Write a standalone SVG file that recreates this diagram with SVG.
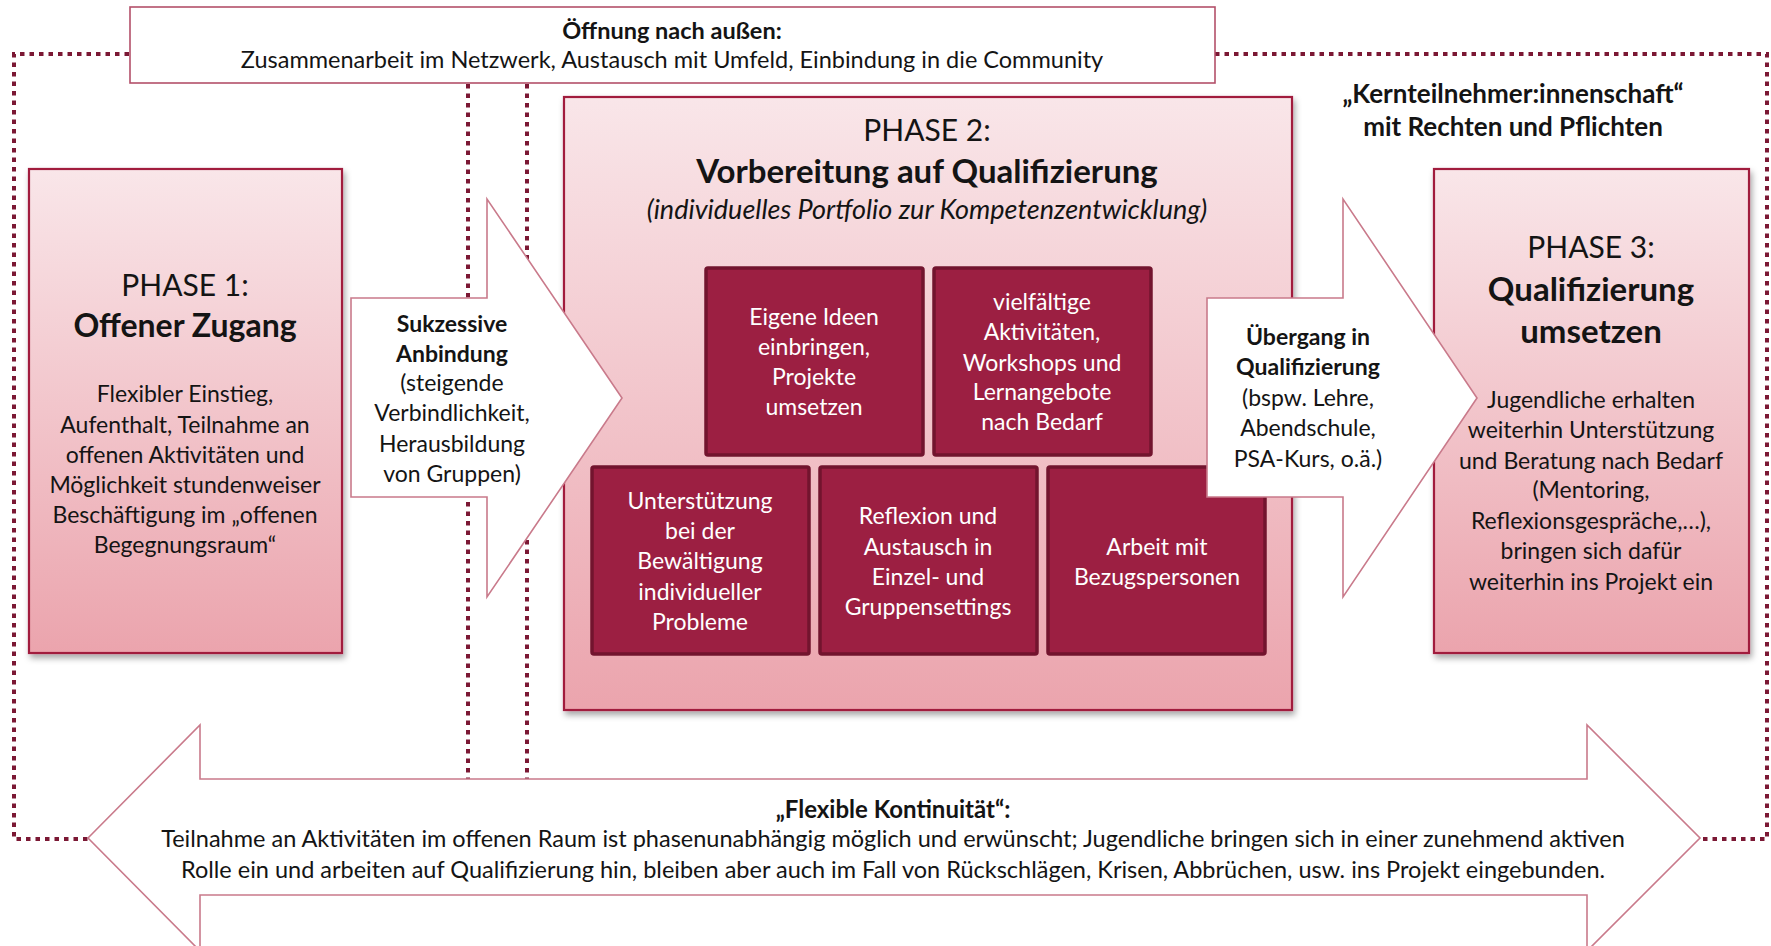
<svg xmlns="http://www.w3.org/2000/svg" width="1771" height="946" viewBox="0 0 1771 946">
<defs>
<linearGradient id="pg" x1="0" y1="0" x2="0" y2="1">
<stop offset="0" stop-color="#f9e6e9"/>
<stop offset="1" stop-color="#eba4ad"/>
</linearGradient>
<filter id="sh" x="-5%" y="-5%" width="115%" height="115%">
<feDropShadow dx="2" dy="4" stdDeviation="3" flood-color="#000" flood-opacity="0.35"/>
</filter>
<style>
.t{font-family:Lato,"Liberation Sans",sans-serif;fill:#141414;text-anchor:middle}
.b{font-weight:bold}
.i{font-style:italic}
.s23{font-size:23px}
.s235{font-size:23.5px}
.s24{font-size:24px}
.s26{font-size:26px}
.s27{font-size:27px}
.s30{font-size:30px}
.s32{font-size:32px}
.s33{font-size:33px}
.w{fill:#ffffff}
.phase{fill:url(#pg);stroke:#a11f3d;stroke-width:2.2;filter:url(#sh)}
.inner{fill:#9c1f42;stroke:#72142e;stroke-width:3.5}
.arrow{fill:#ffffff;stroke:#c97a8b;stroke-width:1.6}
.dot{fill:none;stroke:#7b1834;stroke-width:4;stroke-dasharray:4.5 5}
.box{fill:#ffffff;stroke:#b3506a;stroke-width:1.6}
</style>
</defs>
<rect width="1771" height="946" fill="#ffffff"/>

<g id="connectors">
<path class="dot" d="M129 54 H14 V839 H88"/>
<path class="dot" d="M1215 54 H1767 V839 H1700"/>
<path class="dot" d="M468 84 V779"/>
<path class="dot" d="M527 84 V779"/>
</g>

<g id="oeffnung">
<rect class="box" x="130" y="7" width="1085" height="76"/>
<text class="t b s235" x="672" y="39">Öffnung nach außen:</text>
<text class="t s235" x="672" y="68">Zusammenarbeit im Netzwerk, Austausch mit Umfeld, Einbindung in die Community</text>
</g>

<g id="kernteilnehmer">
<text class="t b s26" x="1513" y="103">„Kernteilnehmer:innenschaft“</text>
<text class="t b s26" x="1513" y="136">mit Rechten und Pflichten</text>
</g>

<g id="phase1">
<rect class="phase" x="29" y="169" width="313" height="484"/>
<text class="t s30" x="185" y="296">PHASE 1:</text>
<text class="t b s32" x="185" y="337">Offener Zugang</text>
<text class="t s23" x="185" y="402">Flexibler Einstieg,</text>
<text class="t s23" x="185" y="433">Aufenthalt, Teilnahme an</text>
<text class="t s23" x="185" y="463">offenen Aktivitäten und</text>
<text class="t s23" x="185" y="493">Möglichkeit stundenweiser</text>
<text class="t s23" x="185" y="523">Beschäftigung im „offenen</text>
<text class="t s23" x="185" y="553">Begegnungsraum“</text>
</g>

<g id="phase2">
<rect class="phase" x="564" y="97" width="728" height="613"/>
<text class="t s30" x="927" y="141">PHASE 2:</text>
<text class="t b s33" x="927" y="183">Vorbereitung auf Qualifizierung</text>
<text class="t i s27" x="927" y="219">(individuelles Portfolio zur Kompetenzentwicklung)</text>
</g>

<g id="ideen">
<rect class="inner" x="706" y="268" width="217" height="187" rx="2"/>
<text class="t w s23" x="814" y="325">Eigene Ideen</text>
<text class="t w s23" x="814" y="355">einbringen,</text>
<text class="t w s23" x="814" y="385">Projekte</text>
<text class="t w s23" x="814" y="415">umsetzen</text>
</g>

<g id="aktivitaeten">
<rect class="inner" x="934" y="268" width="217" height="187" rx="2"/>
<text class="t w s23" x="1042" y="310">vielfältige</text>
<text class="t w s23" x="1042" y="340">Aktivitäten,</text>
<text class="t w s23" x="1042" y="371">Workshops und</text>
<text class="t w s23" x="1042" y="400">Lernangebote</text>
<text class="t w s23" x="1042" y="430">nach Bedarf</text>
</g>

<g id="unterstuetzung">
<rect class="inner" x="592" y="467" width="217" height="187" rx="2"/>
<text class="t w s23" x="700" y="509">Unterstützung</text>
<text class="t w s23" x="700" y="539">bei der</text>
<text class="t w s23" x="700" y="569">Bewältigung</text>
<text class="t w s23" x="700" y="600">individueller</text>
<text class="t w s23" x="700" y="630">Probleme</text>
</g>

<g id="reflexion">
<rect class="inner" x="820" y="467" width="217" height="187" rx="2"/>
<text class="t w s23" x="928" y="524">Reflexion und</text>
<text class="t w s23" x="928" y="555">Austausch in</text>
<text class="t w s23" x="928" y="585">Einzel- und</text>
<text class="t w s23" x="928" y="615">Gruppensettings</text>
</g>

<g id="bezugspersonen">
<rect class="inner" x="1048" y="467" width="217" height="187" rx="2"/>
<text class="t w s23" x="1157" y="555">Arbeit mit</text>
<text class="t w s23" x="1157" y="585">Bezugspersonen</text>
</g>

<g id="phase3">
<rect class="phase" x="1434" y="169" width="315" height="484"/>
<text class="t s30" x="1591" y="258">PHASE 3:</text>
<text class="t b s33" x="1591" y="301">Qualifizierung</text>
<text class="t b s33" x="1591" y="343">umsetzen</text>
<text class="t s23" x="1591" y="408">Jugendliche erhalten</text>
<text class="t s23" x="1591" y="438">weiterhin Unterstützung</text>
<text class="t s23" x="1591" y="469">und Beratung nach Bedarf</text>
<text class="t s23" x="1591" y="498">(Mentoring,</text>
<text class="t s23" x="1591" y="529">Reflexionsgespräche,…),</text>
<text class="t s23" x="1591" y="559">bringen sich dafür</text>
<text class="t s23" x="1591" y="590">weiterhin ins Projekt ein</text>
</g>

<g id="anbindung">
<path class="arrow" d="M351 298 H487 V199 L622 398 L487 597 V497 H351 Z"/>
<text class="t b s23" x="452" y="332">Sukzessive</text>
<text class="t b s23" x="452" y="362">Anbindung</text>
<text class="t s23" x="452" y="391">(steigende</text>
<text class="t s23" x="452" y="421">Verbindlichkeit,</text>
<text class="t s23" x="452" y="452">Herausbildung</text>
<text class="t s23" x="452" y="482">von Gruppen)</text>
</g>

<g id="uebergang">
<path class="arrow" d="M1207 298 H1343 V199 L1477 398 L1343 597 V497 H1207 Z"/>
<text class="t b s23" x="1308" y="345">Übergang in</text>
<text class="t b s23" x="1308" y="375">Qualifizierung</text>
<text class="t s23" x="1308" y="406">(bspw. Lehre,</text>
<text class="t s23" x="1308" y="436">Abendschule,</text>
<text class="t s23" x="1308" y="467">PSA-Kurs, o.ä.)</text>
</g>

<g id="kontinuitaet">
<path class="arrow" d="M88 838 L200 725 V779 H1587 V725 L1700 838 L1587 951 V895 H200 V951 Z"/>
<text class="t b s24" x="893" y="818">„Flexible Kontinuität“:</text>
<text class="t s235" x="893" y="847">Teilnahme an Aktivitäten im offenen Raum ist phasenunabhängig möglich und erwünscht; Jugendliche bringen sich in einer zunehmend aktiven</text>
<text class="t s235" x="893" y="878">Rolle ein und arbeiten auf Qualifizierung hin, bleiben aber auch im Fall von Rückschlägen, Krisen, Abbrüchen, usw. ins Projekt eingebunden.</text>
</g>
</svg>
